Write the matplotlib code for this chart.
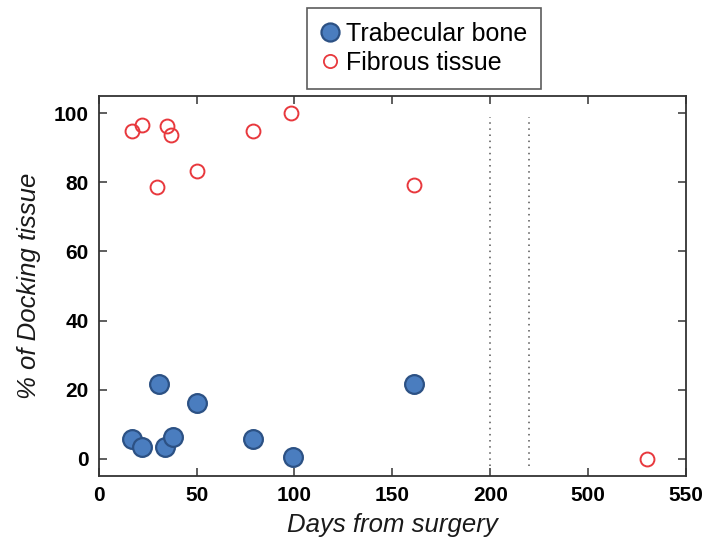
import numpy as np
import matplotlib
matplotlib.use("Agg")
import matplotlib.pyplot as plt
from matplotlib.lines import Line2D

# Data (days after surgery, % of docking tissue)
bone_days = [17, 22, 31, 34, 38, 50, 79, 99, 161]
bone_pct = [5.7, 3.3, 21.5, 3.3, 6.3, 16.1, 5.8, 0.6, 21.5]

fibrous_days = [17, 22, 30, 35, 37, 50, 79, 98, 161, 530]
fibrous_pct = [95.0, 96.6, 78.6, 96.4, 93.7, 83.2, 95.0, 100.0, 79.1, 0.0]

x_ticks = [0, 50, 100, 150, 200, 500, 550]
break_lines = [200, 220]

plt.rcParams['font.family'] = ['Liberation Sans', 'DejaVu Sans']


def squeeze_forward(x):
    """Broken axis: days 220..470 collapse, beyond 470 shift left by 250."""
    x = np.asarray(x, dtype=float)
    return np.where(x <= 220, x, np.where(x >= 470, x - 250, 220))


def squeeze_inverse(y):
    y = np.asarray(y, dtype=float)
    return np.where(y <= 220, y, y + 250)


fig = plt.figure(figsize=(7.09, 5.44), dpi=100)
ax = fig.add_axes([98.7 / 709, 1 - 476 / 544, (686 - 98.7) / 709, 380 / 544])
ax.set_xscale('function', functions=(squeeze_forward, squeeze_inverse))

ax.plot(bone_days, bone_pct, 'o', ms=13.5, mfc='#4a7dbf', mec='#2c5184',
        mew=1.6, linestyle='none', zorder=3)
ax.plot(fibrous_days, fibrous_pct, 'o', ms=10, mfc='none', mec='#e8383d',
        mew=1.4, linestyle='none', zorder=3)

ax.vlines(break_lines, -2, 99, colors='#555555', linestyles=(0, (1, 3)),
          linewidth=1.1)

ax.set_xlim(0, 550)
ax.set_ylim(-5, 105)
ax.set_xticks(x_ticks)
ax.set_xticklabels([str(t) for t in x_ticks])
ax.set_yticks([0, 20, 40, 60, 80, 100])
ax.minorticks_off()
ax.tick_params(direction='in', top=True, right=True, length=6, width=1.1,
               color='#333333', labelsize=15, pad=7)
for lab in ax.get_xticklabels() + ax.get_yticklabels():
    lab.set_fontweight('bold')
for sp in ax.spines.values():
    sp.set_linewidth(1.3)
    sp.set_color('#333333')

ax.set_xlabel('Days from surgery', fontsize=18.5, style='italic',
              color='#1a1a1a', labelpad=6)
ax.set_ylabel('% of Docking tissue', fontsize=18.5, style='italic',
              color='#1a1a1a', labelpad=9)

# Legend sits above the axes, outside the plot box
handles = [
    Line2D([], [], marker='o', ls='none', ms=13, mfc='#4a7dbf',
           mec='#2c5184', mew=1.6),
    Line2D([], [], marker='o', ls='none', ms=9.5, mfc='none',
           mec='#e8383d', mew=1.3),
]
leg = fig.legend(handles, ['Trabecular bone', 'Fibrous tissue'],
                 loc='upper left', bbox_to_anchor=(307 / 709, 1 - 8 / 544),
                 borderaxespad=0, fontsize=18, fancybox=False,
                 handlelength=0.75, handletextpad=0.25, labelspacing=0.2,
                 borderpad=0.55)
leg.get_frame().set_edgecolor('#333333')
leg.get_frame().set_linewidth(1.2)

fig.savefig('out.png', dpi=100)
